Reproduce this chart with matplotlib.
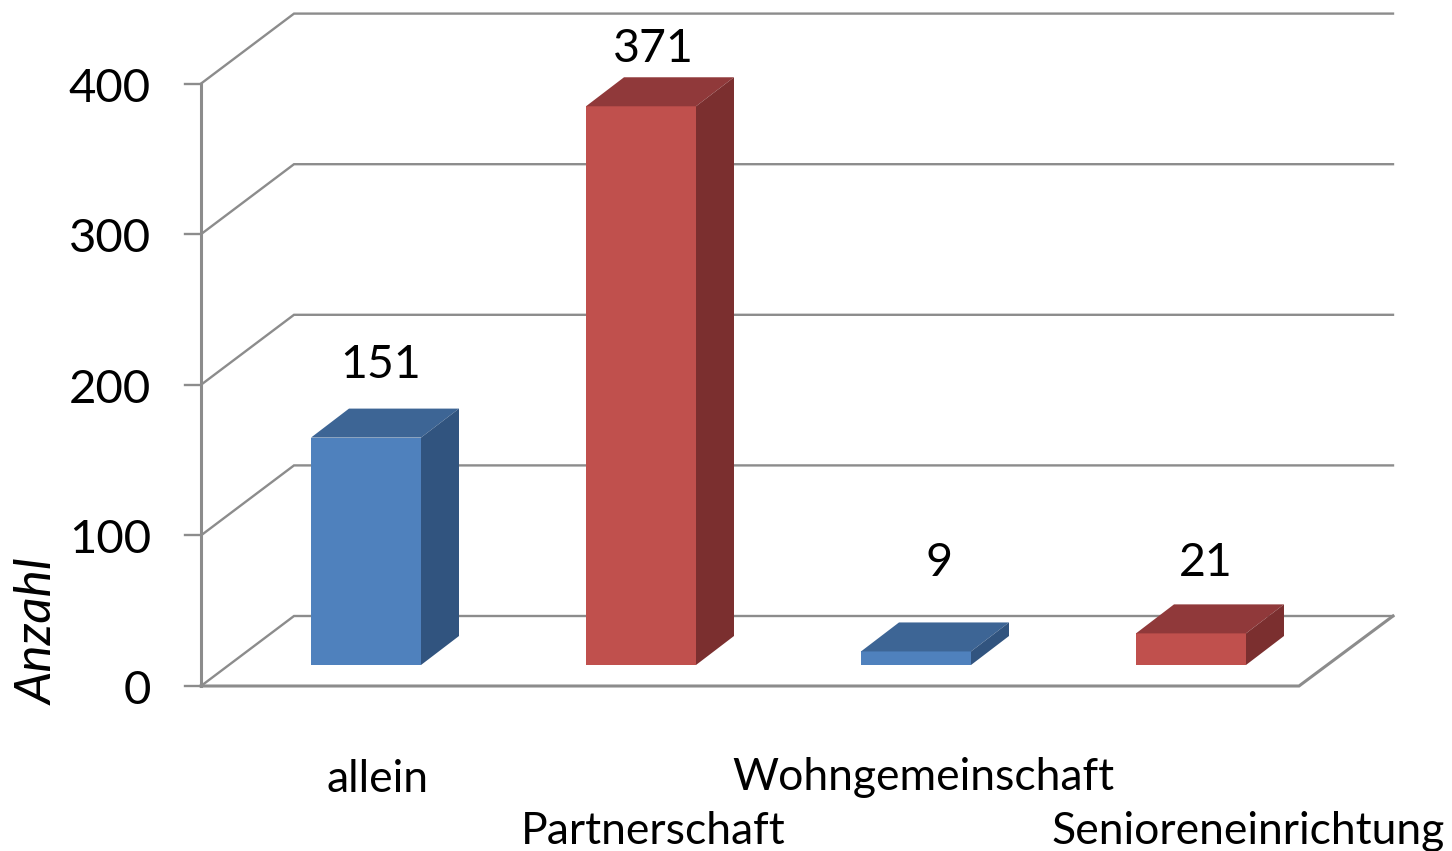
import matplotlib
matplotlib.use("Agg")
import matplotlib.pyplot as plt
from matplotlib.patches import Polygon

categories = ["allein", "Partnerschaft", "Wohngemeinschaft", "Senioreneinrichtung"]
values = [151, 371, 9, 21]
y_ticks = [0, 100, 200, 300, 400]
y_label = "Anzahl"
front_colors = ["#4F81BD", "#C0504D", "#4F81BD", "#C0504D"]
top_colors = ["#3D6595", "#90393A", "#3D6595", "#90393A"]
side_colors = ["#31547F", "#7B2F2F", "#31547F", "#7B2F2F"]
GRID = "#8C8C8C"

W, H = 1452, 851
PX_X = 275.0
PX_Y = 1.506
X0, Y0 = 366.0, 665.0


def dx(px):
    return px / PX_X


def dy(px):
    return px / PX_Y


plt.rcParams["font.family"] = ["Lato", "DejaVu Sans"]
fig = plt.figure(figsize=(W / 100, H / 100), dpi=100)
ax = fig.add_axes([0, 0, 1, 1])
ax.set_xlim(-X0 / PX_X, (W - X0) / PX_X)
ax.set_ylim(-(H - Y0) / PX_Y, Y0 / PX_Y)
ax.axis("off")

# walls: front-left corner and floor
wall_x = dx(201 - X0)
wall_back_x = dx(294 - X0)
right_back_x = dx(1393 - X0)
right_front_x = dx(1299 - X0)
floor_y = -dy(686 - Y0)
back_y = floor_y + dy(70)

lw = 1.7
for v in y_ticks:
    ax.plot([wall_x, wall_back_x, right_back_x], [floor_y + v, back_y + v, back_y + v],
            color=GRID, lw=lw, solid_joinstyle="miter", zorder=1)
    ax.plot([wall_x - dx(16), wall_x], [floor_y + v, floor_y + v], color=GRID, lw=lw, zorder=1)
    ax.text(wall_x - dx(50), floor_y + v - dy(5), str(v), ha="right", va="center",
            fontsize=34, color="black")
ax.plot([wall_x, wall_x], [floor_y, floor_y + y_ticks[-1]], color=GRID, lw=2.2, zorder=1)
ax.plot([wall_x, right_front_x, right_back_x], [floor_y, floor_y, back_y],
        color=GRID, lw=2.2, solid_joinstyle="miter", zorder=1)

# oblique bars
half = dx(55)
ddx, ddy = dx(38), dy(29)
for i, v in enumerate(values):
    l, r = i - half, i + half
    ax.add_patch(Polygon([(l, 0), (r, 0), (r, v), (l, v)], fc=front_colors[i], ec="none", zorder=3))
    ax.add_patch(Polygon([(l, v), (r, v), (r + ddx, v + ddy), (l + ddx, v + ddy)],
                         fc=top_colors[i], ec="none", zorder=3))
    ax.add_patch(Polygon([(r, 0), (r + ddx, ddy), (r + ddx, v + ddy), (r, v)],
                         fc=side_colors[i], ec="none", zorder=3))

# value labels
label_offsets = [(15, 365), (12, 49), (23, 563), (15, 563)]
for i, v in enumerate(values):
    off, ypx = label_offsets[i]
    ax.text(i + dx(off), dy(Y0 - ypx), str(v), ha="center", va="center", fontsize=33.5, color="black")

# category labels, staggered
cat_px = [(377, 779), (653, 832), (923, 778), (1248, 832)]
for i, name in enumerate(categories):
    px, py = cat_px[i]
    ax.text(dx(px - X0), dy(Y0 - py), name, ha="center", va="center", fontsize=32, color="black")

ax.text(dx(39 - X0), dy(Y0 - 632), y_label, rotation=90, ha="center", va="center",
        fontsize=37, style="italic", color="black")

fig.savefig("out.png", dpi=100)
